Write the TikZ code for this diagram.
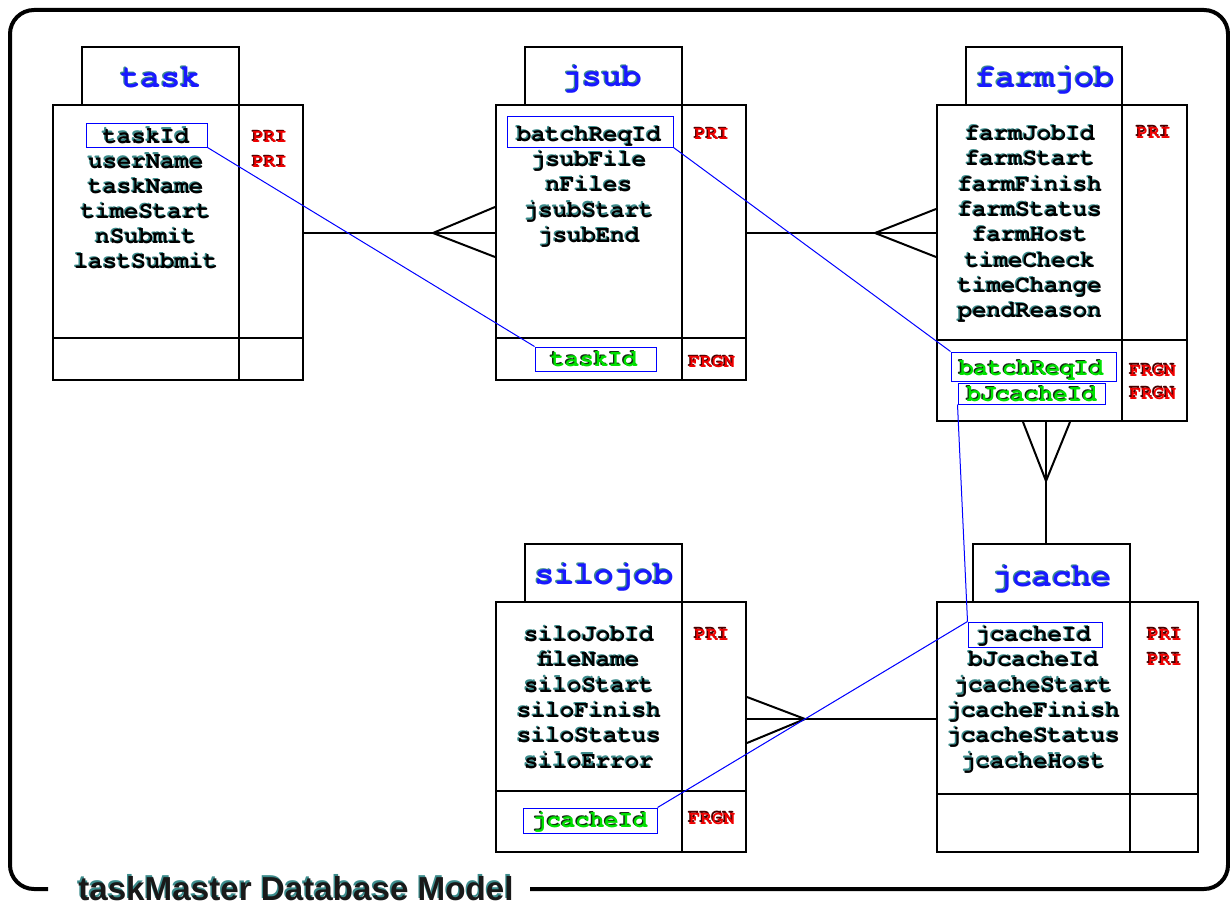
\documentclass[tikz,border=0pt]{standalone}
\usepackage{fontspec}
\usetikzlibrary{fit}
\newfontfamily\cur{texgyrecursor}[Extension=.otf,UprightFont=*-regular,BoldFont=*-bold]
\newfontfamily\arb{Liberation Sans}
\definecolor{shteal}{RGB}{60,140,140}
\definecolor{ttlblue}{RGB}{25,25,255}
\definecolor{keyred}{RGB}{240,0,0}
\definecolor{keysh}{RGB}{70,0,0}
\definecolor{fkgreen}{RGB}{0,225,0}
\definecolor{fksh}{RGB}{20,40,20}
\newcommand\shd[3]{\makebox[0pt][l]{\hspace*{-0.7pt}\raisebox{0.6pt}{\color{#1}#3}}{\color{#2}#3}}
\newcommand\fldtxt[1]{\shd{shteal}{black}{#1}}
\newcommand\fktxt[1]{\shd{fksh}{fkgreen}{#1}}
\newcommand\keytxt[1]{\shd{keysh}{keyred}{#1}}
\newcommand\ttltxt[1]{\shd{shteal}{ttlblue}{#1}}
\tikzset{
  tbl/.style={draw=black, line width=1pt, inner sep=0pt},
  hl/.style={draw=blue, line width=0.5pt, inner sep=0pt},
  fld/.style={inner sep=0pt, anchor=base, font=\cur\bfseries\fontsize{12}{12}\selectfont},
  keyf/.style={inner sep=0pt, anchor=base, font=\cur\bfseries\fontsize{9.6}{10}\selectfont},
  hdr/.style={inner sep=0pt, anchor=base, font=\cur\bfseries\fontsize{16.5}{17}\selectfont},
  conn/.style={draw=black, line width=1pt},
  fkline/.style={draw=blue, line width=0.5pt},
  divl/.style={draw=black, line width=1pt}
}
\begin{document}
\begin{tikzpicture}[x=0.5pt,y=-0.5pt]
\useasboundingbox (0,0) rectangle (1230,904);
% ---------- frame and caption
\node[inner sep=0pt, anchor=base, font=\arb\bfseries\fontsize{16.6}{17}\selectfont] (caption) at (296,900) {\shd{shteal}{black!90}{taskMaster Database Model}};
\draw[line width=2pt, rounded corners=12pt] (48,889) -- (10,889) -- (10,10) -- (1228,10) -- (1228,889) -- (530,889);

% ---------- task
\node[tbl, fit={(82,47) (239,105)}] (task-h) {};
\node[tbl, fit={(53,105) (303,380)}] (task) {};
\draw[divl] (239,105) -- (239,380);
\draw[divl] (53,338) -- (303,338);
\node[hdr] (task-t) at (160.5,88) {\ttltxt{task}};
\foreach \t [count=\i from 0] in {taskId,userName,taskName,timeStart,nSubmit,lastSubmit}
  \node[fld] (task-f\i) at (146,{143+25.1*\i}) {\fldtxt{\t}};
\node[hl, fit={(86,123) (207,147)}] (task-hl) {};
\node[keyf] (task-k1) at (270,142.5) {\keytxt{PRI}};
\node[keyf] (task-k2) at (270,167.5) {\keytxt{PRI}};

% ---------- jsub
\node[tbl, fit={(525,47) (682,105)}] (jsub-h) {};
\node[tbl, fit={(496,105) (746,380)}] (jsub) {};
\draw[divl] (682,105) -- (682,380);
\draw[divl] (496,338) -- (746,338);
\node[hdr] (jsub-t) at (602,87) {\ttltxt{jsub}};
\foreach \t [count=\i from 0] in {batchReqId,jsubFile,nFiles,jsubStart,jsubEnd}
  \node[fld] (jsub-f\i) at (589,{141.5+25.2*\i}) {\fldtxt{\t}};
\node[hl, fit={(507,117) (673,147)}] (jsub-hl) {};
\node[keyf] (jsub-k1) at (712,140) {\keytxt{PRI}};
\node[fld] (jsub-fkt) at (594,366.5) {\fktxt{taskId}};
\node[hl, fit={(535,347) (656,371)}] (jsub-fk) {};
\node[keyf] (jsub-k2) at (712,367.5) {\keytxt{FRGN}};

% ---------- farmjob
\node[tbl, fit={(966,47) (1122,105)}] (farm-h) {};
\node[tbl, fit={(937,105) (1187,421)}] (farm) {};
\draw[divl] (1122,105) -- (1122,421);
\draw[divl] (937,340) -- (1187,340);
\node[hdr] (farm-t) at (1045,88) {\ttltxt{farmjob}};
\foreach \t [count=\i from 0] in {farmJobId,farmStart,farmFinish,farmStatus,farmHost,timeCheck,timeChange,pendReason}
  \node[fld] (farm-f\i) at (1030,{140.5+25.35*\i}) {\fldtxt{\t}};
\node[keyf] (farm-k1) at (1154,138) {\keytxt{PRI}};
\node[fld] (farm-fkt1) at (1031.5,375.5) {\fktxt{batchReqId}};
\node[hl, fit={(951,352) (1116,381)}] (farm-fk1) {};
\node[fld] (farm-fkt2) at (1032,401.5) {\fktxt{bJcacheId}};
\node[hl, fit={(958,383) (1105,404)}] (farm-fk2) {};
\node[keyf] (farm-k2) at (1153,376) {\keytxt{FRGN}};
\node[keyf] (farm-k3) at (1153,399) {\keytxt{FRGN}};

% ---------- silojob
\node[tbl, fit={(525,544) (682,602)}] (silo-h) {};
\node[tbl, fit={(496,602) (746,852)}] (silo) {};
\draw[divl] (682,602) -- (682,852);
\draw[divl] (496,791) -- (746,791);
\node[hdr] (silo-t) at (604,584.5) {\ttltxt{silojob}};
\foreach \t [count=\i from 0] in {siloJobId,fileName,siloStart,siloFinish,siloStatus,siloError}
  \node[fld] (silo-f\i) at (589,{641.5+25.3*\i}) {\fldtxt{\t}};
\node[keyf] (silo-k1) at (712,640) {\keytxt{PRI}};
\node[fld] (silo-fkt) at (590,827.5) {\fktxt{jcacheId}};
\node[hl, fit={(523,808) (657,833)}] (silo-fk) {};
\node[keyf] (silo-k2) at (712,824) {\keytxt{FRGN}};

% ---------- jcache
\node[tbl, fit={(973,544) (1130,602)}] (jc-h) {};
\node[tbl, fit={(937,602) (1198,852)}] (jc) {};
\draw[divl] (1130,602) -- (1130,852);
\draw[divl] (937,794) -- (1198,794);
\node[hdr] (jc-t) at (1052,586.5) {\ttltxt{jcache}};
\foreach \t [count=\i from 0] in {jcacheId,bJcacheId,jcacheStart,jcacheFinish,jcacheStatus,jcacheHost}
  \node[fld] (jc-f\i) at (1033.5,{641.5+25.3*\i}) {\fldtxt{\t}};
\node[hl, fit={(968,622) (1102,647)}] (jc-hl) {};
\node[keyf] (jc-k1) at (1165,640) {\keytxt{PRI}};
\node[keyf] (jc-k2) at (1165,665) {\keytxt{PRI}};

% ---------- relationship connectors (crow's feet)
\coordinate (c1) at (433,233);
\draw[conn] (task.east |- c1) -- (jsub.west |- c1);
\draw[conn] (jsub.west |- 0,207) -- (c1) -- (jsub.west |- 0,257);

\coordinate (c2) at (875,233);
\draw[conn] (jsub.east |- c2) -- (farm.west |- c2);
\draw[conn] (farm.west |- 0,209) -- (c2) -- (farm.west |- 0,257);

\coordinate (c3) at (1046,481);
\draw[conn] (farm.south -| c3) -- (jc-h.north -| c3);
\draw[conn] (farm.south -| 1023,0) -- (c3) -- (farm.south -| 1070,0);

\coordinate (c4) at (805,719);
\draw[conn] (silo.east |- c4) -- (jc.west |- c4);
\draw[conn] (silo.east |- 0,697) -- (c4) -- (silo.east |- 0,743);

% ---------- key links
\draw[fkline] (task-hl.south east) -- (jsub-fk.north west);
\draw[fkline] (jsub-hl.south east) -- (farm-fk1.north west);
\draw[fkline] (farm-fk2.south west) -- (jc-hl.north west);
\draw[fkline] (silo-fk.north east) -- (jc-hl.north west);
\end{tikzpicture}
\end{document}
